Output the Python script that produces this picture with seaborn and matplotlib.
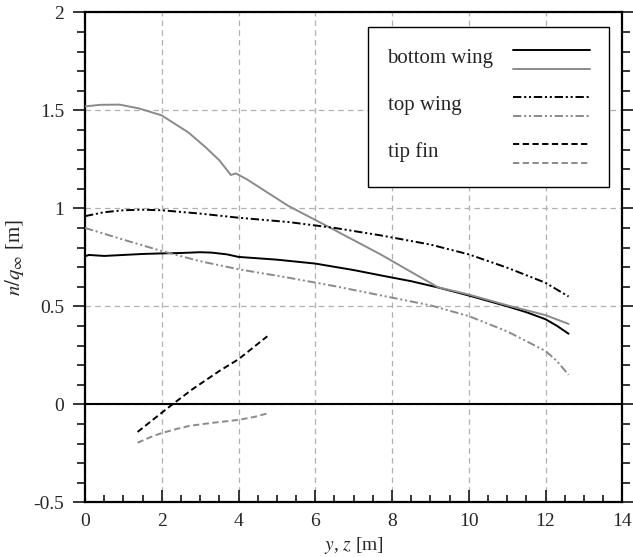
import matplotlib
matplotlib.use("Agg")
import matplotlib.pyplot as plt
import seaborn as sns
from matplotlib.ticker import MultipleLocator
from matplotlib.patches import Rectangle
from matplotlib.lines import Line2D

# bottom wing (black = first set, gray = second set)
bw_black_x = [0, 0.1, 0.5, 1.0, 1.5, 2.0, 2.5, 3.0, 3.3, 3.7, 4.0, 5.0, 6.0, 7.0,
              7.7, 8.5, 9.2, 10.0, 11.0, 11.5, 12.0, 12.3, 12.6]
bw_black_y = [0.755, 0.762, 0.757, 0.762, 0.767, 0.77, 0.772, 0.776, 0.774, 0.765,
              0.752, 0.738, 0.718, 0.685, 0.658, 0.628, 0.596, 0.555, 0.50, 0.47,
              0.434, 0.40, 0.36]
bw_gray_x = [0, 0.4, 0.9, 1.4, 2.0, 2.7, 3.15, 3.5, 3.8, 3.93, 4.2, 5.3, 6.3, 7.7,
             8.5, 9.2, 10.0, 11.0, 12.0, 12.6]
bw_gray_y = [1.52, 1.528, 1.529, 1.51, 1.474, 1.386, 1.31, 1.245, 1.17, 1.178,
             1.15, 1.012, 0.91, 0.765, 0.675, 0.597, 0.56, 0.505, 0.455, 0.41]

# top wing
tw_black_x = [0, 0.5, 1.0, 1.5, 2.0, 3.0, 4.0, 5.3, 6.5, 7.7, 9.0, 10.0, 11.0,
              12.0, 12.6]
tw_black_y = [0.96, 0.98, 0.99, 0.993, 0.99, 0.973, 0.952, 0.93, 0.9, 0.862,
              0.815, 0.765, 0.697, 0.62, 0.55]
tw_gray_x = [0, 0.5, 1.0, 2.0, 3.0, 4.0, 5.3, 6.5, 7.7, 9.0, 10.0, 11.0, 12.0,
             12.3, 12.6]
tw_gray_y = [0.90, 0.87, 0.84, 0.782, 0.73, 0.689, 0.646, 0.603, 0.556, 0.505,
             0.45, 0.372, 0.272, 0.22, 0.15]

# tip fin
tf_black_x = [1.37, 1.98, 2.28, 2.8, 3.5, 4.0, 4.75]
tf_black_y = [-0.141, -0.046, 0.0, 0.077, 0.17, 0.23, 0.347]
tf_gray_x = [1.37, 1.7, 1.98, 2.4, 2.72, 3.3, 3.98, 4.4, 4.76]
tf_gray_y = [-0.196, -0.168, -0.148, -0.125, -0.11, -0.095, -0.08, -0.065, -0.046]

legend_labels = ["bottom wing", "top wing", "tip fin"]

sns.set_style("white")
plt.rcParams["font.family"] = ["Liberation Serif", "DejaVu Serif"]
plt.rcParams["mathtext.fontset"] = "stix"
plt.rcParams["lines.scale_dashes"] = False

GRAY = "#8a8a8a"
dashdotdot = (0, (6, 2, 1.5, 2, 1.5, 2))
dashed = (0, (4.5, 2.5))

fig = plt.figure(figsize=(6.33, 5.57), dpi=100)
ax = fig.add_axes([0.1343, 0.0982, 0.8488, 0.8797])

series = [
    (bw_black_x, bw_black_y, "black", "-"),
    (bw_gray_x, bw_gray_y, GRAY, "-"),
    (tw_black_x, tw_black_y, "black", dashdotdot),
    (tw_gray_x, tw_gray_y, GRAY, dashdotdot),
    (tf_black_x, tf_black_y, "black", dashed),
    (tf_gray_x, tf_gray_y, GRAY, dashed),
]
for xs, ys, col, ls in series:
    sns.lineplot(x=xs, y=ys, ax=ax, color=col, linestyle=ls, linewidth=1.4,
                 sort=False, estimator=None, zorder=3)

ax.axhline(0, color="black", lw=1.5, zorder=2)

ax.set_xlim(0, 14)
ax.set_ylim(-0.5, 2)
ax.xaxis.set_major_locator(MultipleLocator(2))
ax.xaxis.set_minor_locator(MultipleLocator(0.5))
ax.yaxis.set_major_locator(MultipleLocator(0.5))
ax.yaxis.set_minor_locator(MultipleLocator(0.1))
ax.set_yticks([-0.5, 0, 0.5, 1, 1.5, 2])
ax.set_yticklabels(["-0.5", "0", "0.5", "1", "1.5", "2"])

ax.grid(True, which="major", color="#b0b0b0", linestyle=(0, (4, 3)), lw=0.9)
for sp in ax.spines.values():
    sp.set_color("black")
    sp.set_linewidth(1.6)

ax.tick_params(axis="x", which="both", direction="in", top=False, bottom=True,
               labelsize=14, pad=8, width=1.3)
ax.tick_params(axis="x", which="major", length=9)
ax.tick_params(axis="x", which="minor", length=5)
ax.tick_params(axis="y", which="both", direction="out", left=True, right=True,
               labelsize=14, pad=6, width=1.3)
ax.tick_params(axis="y", which="major", length=9)
ax.tick_params(axis="y", which="minor", length=5.5)

ax.set_xlabel(r"$y$, $z$ [m]", fontsize=14, labelpad=3)
ax.set_ylabel(r"$n/q_{\infty}$ [m]", fontsize=15, labelpad=5)

# legend box: label on the left, black and gray line samples on the right
box = Rectangle((0.526, 0.643), 0.45, 0.326, transform=ax.transAxes,
                facecolor="white", edgecolor="black", lw=1.0, zorder=5)
ax.add_patch(box)
label_y = [0.905, 0.810, 0.714]
styles = ["-", dashdotdot, dashed]
for lab, yy, ls in zip(legend_labels, label_y, styles):
    ax.text(0.563, yy, lab, transform=ax.transAxes, fontsize=15,
            va="center", ha="left", zorder=6)
    ax.add_line(Line2D([0.796, 0.94], [yy + 0.018, yy + 0.018], transform=ax.transAxes,
                       color="black", linestyle=ls, lw=1.4, zorder=6))
    ax.add_line(Line2D([0.796, 0.94], [yy - 0.021, yy - 0.021], transform=ax.transAxes,
                       color=GRAY, linestyle=ls, lw=1.4, zorder=6))

fig.savefig("out.png", dpi=100)
